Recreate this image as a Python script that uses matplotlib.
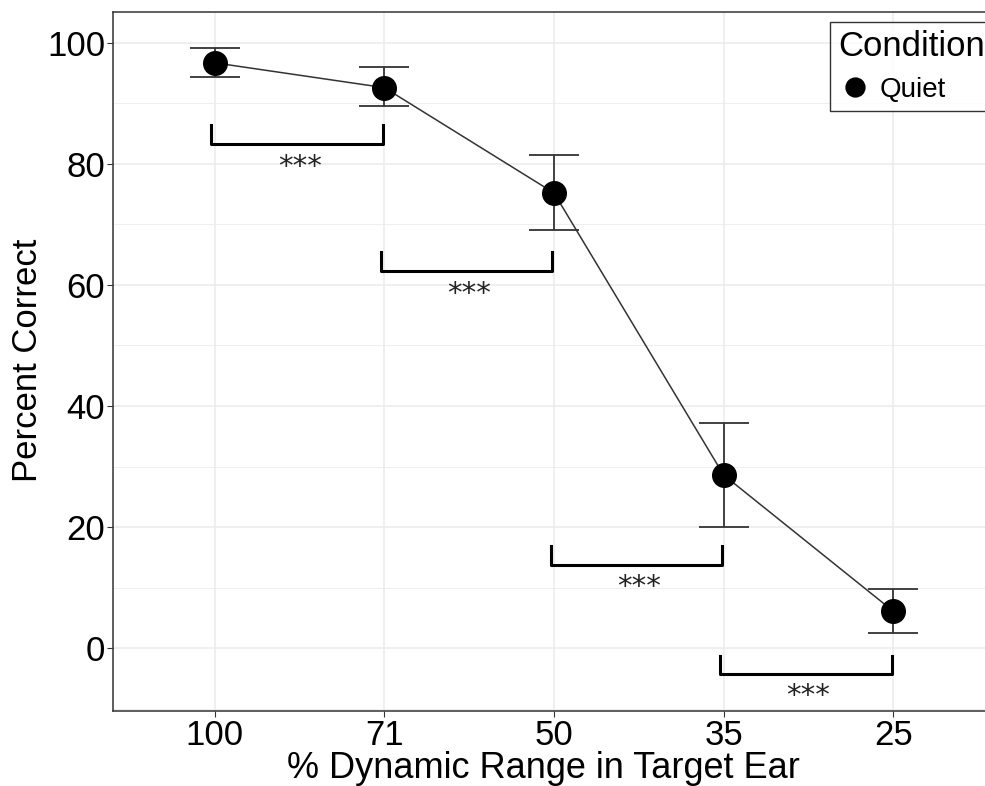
import matplotlib.pyplot as plt
import numpy as np
from matplotlib.ticker import MultipleLocator

# data
categories = ['100', '71', '50', '35', '25']
mean_correct = [96.7, 92.6, 75.2, 28.6, 6.1]
upper_err = [99.2, 96.0, 81.5, 37.2, 9.8]
lower_err = [94.4, 89.6, 69.1, 20.0, 2.5]

# significance brackets: (left index, right index, bar level, tip level, label baseline)
brackets = [(0, 1, 83.3, 86.4, 78.1),
            (1, 2, 62.3, 65.5, 57.2),
            (2, 3, 13.7, 16.9, 8.8),
            (3, 4, -4.3, -1.3, -9.2)]

plt.rcParams['font.family'] = ['Liberation Sans', 'DejaVu Sans']

fig = plt.figure(figsize=(9.85, 7.86), dpi=100)
W, H = 985, 786
ax = fig.add_axes([113 / W, (H - 711) / H, (995 - 113) / W, (711 - 12) / H])

x = np.arange(len(categories))
mean = np.array(mean_correct)
yerr = [mean - np.array(lower_err), np.array(upper_err) - mean]

ax.plot(x, mean, color='#333333', linewidth=1.1, zorder=3)
ax.errorbar(x, mean, yerr=yerr, fmt='none', ecolor='#333333', elinewidth=1.3,
            capsize=18, capthick=1.3, zorder=3)
ax.plot(x, mean, 'o', color='black', markersize=17, zorder=4, label='Quiet')

for a, b, bar, tip, lab in brackets:
    ax.plot([a - 0.02, a - 0.02, b - 0.01, b - 0.01], [tip, bar, bar, tip],
            color='black', linewidth=2.2, solid_joinstyle='round', zorder=3)
    ax.text((a + b) / 2, lab, '***', ha='center', va='baseline',
            fontsize=21, family='DejaVu Sans', color='#222222')

ax.set_xlim(-0.6, 4.6)
ax.set_ylim(-10.4, 105.1)
ax.set_xticks(x)
ax.set_xticklabels(categories)
ax.yaxis.set_major_locator(MultipleLocator(20))
ax.yaxis.set_minor_locator(MultipleLocator(10))
ax.grid(which='major', color='#ebebeb', linewidth=1.1)
ax.grid(which='minor', axis='y', color='#ebebeb', linewidth=0.6)
ax.set_axisbelow(True)
ax.tick_params(which='major', labelsize=25, colors='#333333', length=4,
               labelcolor='black', pad=1.5)
ax.tick_params(which='minor', length=0)
for s in ax.spines.values():
    s.set_color('#333333')
    s.set_linewidth(1.1)

ax.set_xlabel('% Dynamic Range in Target Ear', fontsize=26)
ax.set_ylabel('Percent Correct', fontsize=25)
ax.xaxis.set_label_coords((543 - 113) / 882, (711 - 778) / 699)
ax.xaxis.label.set_va('baseline')
ax.yaxis.set_label_coords((28 - 113) / 882, (711 - 360) / 699)
ax.yaxis.label.set_va('center')

leg = ax.legend(title='Condition', loc='upper left', bbox_to_anchor=(0.813, 0.986),
                borderaxespad=0, fontsize=20, title_fontsize=25, frameon=True,
                fancybox=False, edgecolor='black', markerscale=0.8,
                handletextpad=0.3, handlelength=1.2, borderpad=0.3,
                alignment='left')
leg.get_frame().set_linewidth(1.0)

fig.savefig('out.png', dpi=100)
